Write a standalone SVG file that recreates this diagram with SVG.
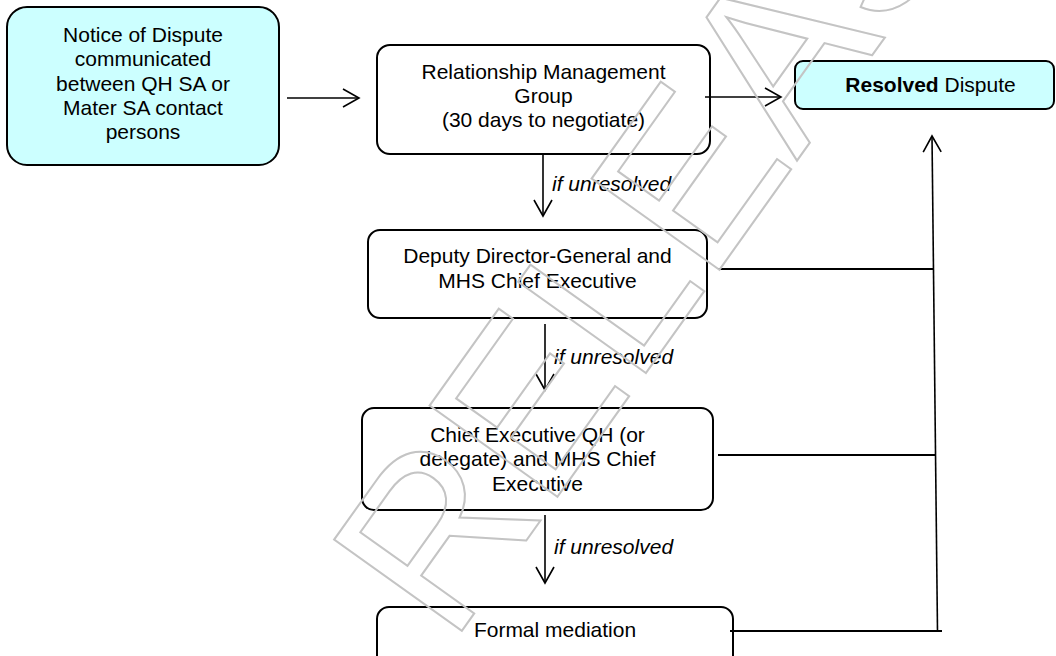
<svg xmlns="http://www.w3.org/2000/svg" width="1056" height="656" viewBox="0 0 1056 656">
  <defs>
    <style>
      .box { fill: #ffffff; stroke: #000000; stroke-width: 2; }
      .cyan { fill: #ccffff; }
      .t { font-family: "Liberation Sans", Arial, sans-serif; font-size: 21px; fill: #000000; text-anchor: middle; }
      .lbl { font-family: "Liberation Sans", Arial, sans-serif; font-size: 21px; font-style: italic; fill: #000000; }
      .ln { fill: none; stroke: #000000; stroke-width: 1.6; }
      .ln2 { fill: none; stroke: #000000; stroke-width: 2.2; }
      .wm { font-family: "Liberation Sans", Arial, sans-serif; font-size: 228px; fill: none; stroke: #c4c4c4; stroke-width: 2; }
    </style>
    <marker id="vh" viewBox="0 0 20 20" refX="17" refY="10" markerWidth="20" markerHeight="20" markerUnits="userSpaceOnUse" orient="auto">
      <path d="M1,1 L17,10 L1,19" fill="none" stroke="#000000" stroke-width="1.6"/>
    </marker>
  </defs>
  <rect width="1056" height="656" fill="#ffffff"/>

  <g id="notice">
    <rect class="box cyan" x="7" y="7" width="272" height="158" rx="20" ry="20"/>
    <text class="t" x="143" y="42">Notice of Dispute</text>
    <text class="t" x="143" y="66">communicated</text>
    <text class="t" x="143" y="90.5">between QH SA or</text>
    <text class="t" x="143" y="115">Mater SA contact</text>
    <text class="t" x="143" y="139">persons</text>
  </g>

  <g id="rmg">
    <rect class="box" x="377" y="45" width="333" height="109" rx="13" ry="13"/>
    <text class="t" x="543.5" y="79">Relationship Management</text>
    <text class="t" x="543.5" y="103">Group</text>
    <text class="t" x="543.5" y="127">(30 days to negotiate)</text>
  </g>

  <g id="resolved">
    <rect class="box cyan" x="795" y="61" width="259" height="48" rx="8" ry="8"/>
    <text class="t" x="930.5" y="92"><tspan font-weight="bold">Resolved</tspan> Dispute</text>
  </g>

  <g id="ddg">
    <rect class="box" x="368" y="230" width="339" height="88" rx="12" ry="12"/>
    <text class="t" x="537.5" y="263">Deputy Director-General and</text>
    <text class="t" x="537.5" y="288">MHS Chief Executive</text>
  </g>

  <g id="ceqh">
    <rect class="box" x="362" y="408" width="351" height="102" rx="12" ry="12"/>
    <text class="t" x="537.5" y="442">Chief Executive QH (or</text>
    <text class="t" x="537.5" y="466">delegate) and MHS Chief</text>
    <text class="t" x="537.5" y="491">Executive</text>
  </g>

  <g id="mediation">
    <rect class="box" x="377" y="607" width="356" height="80" rx="12" ry="12"/>
    <text class="t" x="555" y="637">Formal mediation</text>
  </g>

  <g id="connectors">
    <line class="ln" x1="287" y1="98" x2="359" y2="98" marker-end="url(#vh)"/>
    <line class="ln" x1="705" y1="97" x2="781" y2="97" marker-end="url(#vh)"/>
    <line class="ln" x1="543" y1="155" x2="543" y2="216" marker-end="url(#vh)"/>
    <line class="ln" x1="545" y1="324" x2="545" y2="390" marker-end="url(#vh)"/>
    <line class="ln" x1="545" y1="515" x2="545" y2="583" marker-end="url(#vh)"/>
    <line class="ln2" x1="718" y1="269" x2="933" y2="269"/>
    <line class="ln2" x1="718" y1="455" x2="935" y2="455"/>
    <line class="ln2" x1="730" y1="631" x2="942" y2="631"/>
    <line class="ln" x1="937.5" y1="632" x2="932" y2="136" marker-end="url(#vh)"/>
    <text class="lbl" x="552" y="190.5">if unresolved</text>
    <text class="lbl" x="554" y="364">if unresolved</text>
    <text class="lbl" x="554" y="554">if unresolved</text>
  </g>

  <g id="watermark">
    <text class="wm" transform="translate(451,646) rotate(-54.5)">RELEASED</text>
  </g>
</svg>
